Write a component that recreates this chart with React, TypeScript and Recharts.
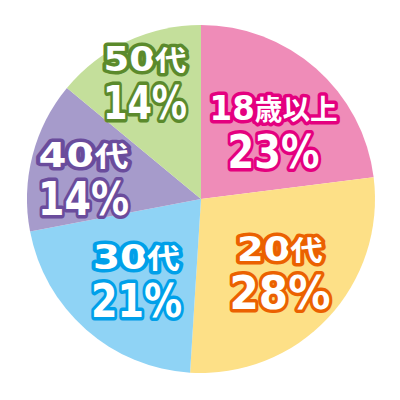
import { PieChart, Pie, Cell } from 'recharts';

const groups = ['18歳以上', '20代', '30代', '40代', '50代'];
const shares = [23, 28, 21, 14, 14];

const fills = ['#ef8cb8', '#fde087', '#8fd3f5', '#a69bcb', '#c4df9b'];
const edges = ['#e4007f', '#eb6100', '#00a0e9', '#6a4c9c', '#5b8a2c'];
// label placement: share of the radius, and a nudge in degrees (clockwise)
const labelR = [0.525, 0.673, 0.653, 0.676, 0.681];
const labelTurn = [11.2, 4.4, -6.8, -10.7, -3];
// each label was fitted by hand in the artwork
const nameWidth = [128, 86, 87, 90, 83];
const pctWidth = [92, 101, 91, 91, 84];

const RAD = Math.PI / 180;

function runs(s: string, digitSize: number, kanjiSize: number) {
  return s.match(/[0-9%]+|[^0-9%]+/g)!.map((part, i) => (
    <tspan key={i} fontSize={/[0-9%]/.test(part) ? digitSize : kanjiSize}>{part}</tspan>
  ));
}

function renderLabel(props: any) {
  const { cx, cy, midAngle, outerRadius, index } = props;
  const r = outerRadius * labelR[index];
  const t = (90 - midAngle + labelTurn[index]) * RAD;
  const x = cx + r * Math.sin(t);
  const y = cy - r * Math.cos(t);
  const common = {
    x,
    textAnchor: 'middle' as const,
    lengthAdjust: 'spacingAndGlyphs' as const,
    fill: '#fff',
    stroke: edges[index],
    strokeWidth: 7,
    strokeLinejoin: 'round' as const,
    paintOrder: 'stroke',
    fontFamily: '"DejaVu Sans", "Noto Sans CJK JP", sans-serif',
    fontWeight: 'bold',
  };
  return (
    <g key={index}>
      <text {...common} y={y - 24} textLength={nameWidth[index]}>
        {runs(groups[index], 33, 28)}
      </text>
      <text {...common} y={y + 24} textLength={pctWidth[index]}>
        {runs(shares[index] + '%', 47, 47)}
      </text>
    </g>
  );
}

export default function App() {
  const data = groups.map((g, i) => ({ name: g, value: shares[i] }));
  return (
    <div style={{ position: 'absolute', left: 0, top: 0, width: 400, height: 400, background: '#fff' }}>
      <PieChart width={400} height={400} margin={{ top: 0, right: 0, bottom: 0, left: 0 }}>
        <Pie
          data={data}
          dataKey="value"
          nameKey="name"
          cx={201}
          cy={199}
          outerRadius={174}
          startAngle={90}
          endAngle={-270}
          stroke="none"
          labelLine={false}
          label={renderLabel}
          isAnimationActive={false}
        >
          {data.map((d, i) => (
            <Cell key={d.name} fill={fills[i]} />
          ))}
        </Pie>
      </PieChart>
    </div>
  );
}
